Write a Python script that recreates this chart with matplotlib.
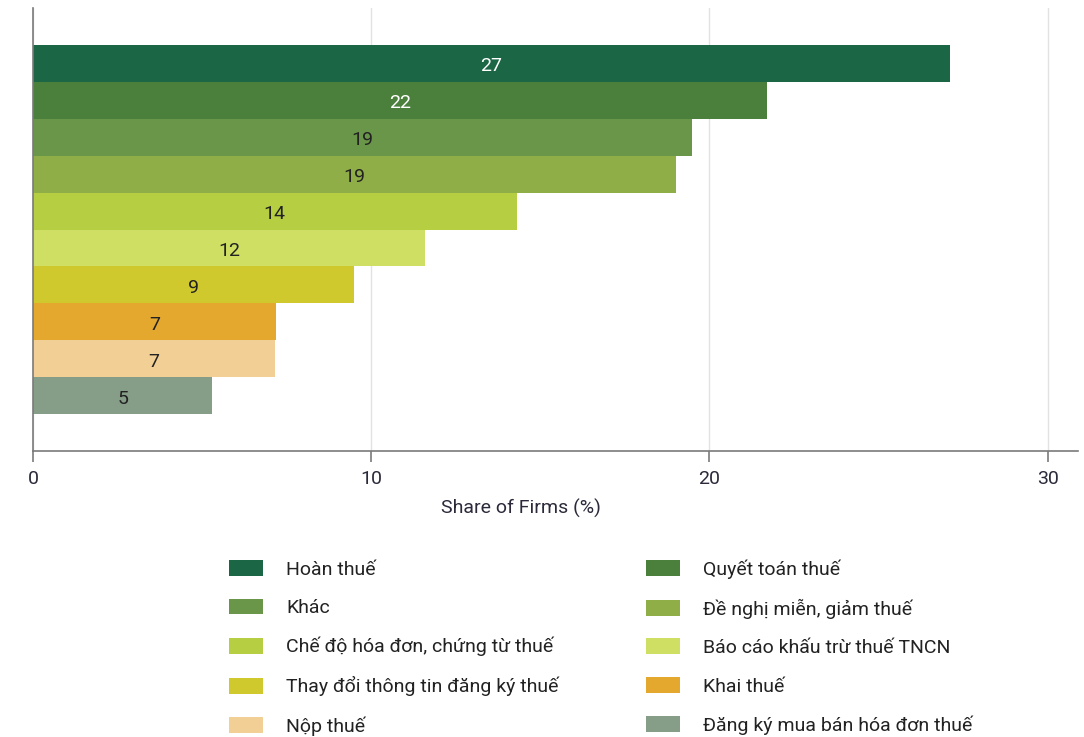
import matplotlib
matplotlib.use("Agg")
from matplotlib import pyplot as plt
from matplotlib.patches import Patch

plt.rcParams["font.family"] = ["Roboto", "DejaVu Sans"]

categories = [
    "Hoàn thuế",
    "Quyết toán thuế",
    "Khác",
    "Đề nghị miễn, giảm thuế",
    "Chế độ hóa đơn, chứng từ thuế",
    "Báo cáo khấu trừ thuế TNCN",
    "Thay đổi thông tin đăng ký thuế",
    "Khai thuế",
    "Nộp thuế",
    "Đăng ký mua bán hóa đơn thuế",
]
values = [27.1, 21.7, 19.5, 19.0, 14.3, 11.6, 9.5, 7.2, 7.15, 5.3]
value_labels = ["27", "22", "19", "19", "14", "12", "9", "7", "7", "5"]
colors = ["#1a6645", "#4b7f3c", "#6a9649", "#8fae48", "#b6ce42",
          "#cfdf63", "#d0c92e", "#e5a82e", "#f2cf95", "#869d88"]
label_colors = ["white", "white"] + ["#222222"] * 8

fig = plt.figure(figsize=(10.84, 7.37), dpi=100)
ax = fig.add_axes([0.0304, 0.388, 0.9641, 0.601])

n = len(values)
ypos = [n - 1 - i for i in range(n)]
ax.barh(ypos, values, height=1.0, color=colors, edgecolor="none", zorder=2)
for y, v, lab, c in zip(ypos, values, value_labels, label_colors):
    ax.text(v / 2, y - 0.08, lab, ha="center", va="center",
            color=c, fontsize=14, zorder=3)

ax.set_ylim(-1.5, n + 0.5)
ax.set_xlim(0, 30.9)
ax.set_xticks([0, 10, 20, 30])
ax.set_yticks([])
ax.grid(axis="x", color="#e2e2e2", linewidth=1, zorder=0)
for s in ["top", "right"]:
    ax.spines[s].set_visible(False)
for s in ["left", "bottom"]:
    ax.spines[s].set_color("#7a7a7a")
    ax.spines[s].set_linewidth(1.2)
ax.tick_params(axis="x", length=8, width=1.2, color="#7a7a7a",
               labelsize=14, labelcolor="#2a2a3a", pad=6)
ax.set_xlabel("Share of Firms (%)", fontsize=14, color="#2a2a3a")
ax.xaxis.set_label_coords(0.467, -0.108)

# legend filled row by row
handles = [Patch(facecolor=c, edgecolor="none") for c in colors]
order = list(range(0, n, 2)) + list(range(1, n, 2))
fig.legend([handles[i] for i in order], [categories[i] for i in order],
           ncol=2, loc="upper left", bbox_to_anchor=(0.1954, 0.265),
           frameon=False, fontsize=14, handlelength=1.75, handleheight=0.87,
           handletextpad=1.18, columnspacing=4.5, labelspacing=1.02,
           labelcolor="#222222")

fig.savefig("out.png", dpi=100)
